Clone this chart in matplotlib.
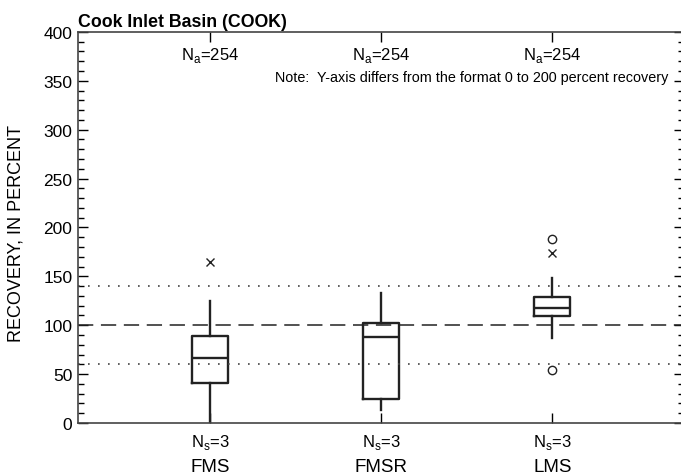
import matplotlib
matplotlib.use("Agg")
import matplotlib.pyplot as plt
from matplotlib.ticker import MultipleLocator

plt.rcParams['font.family'] = ['Liberation Sans', 'DejaVu Sans']
plt.rcParams['mathtext.fontset'] = 'custom'
plt.rcParams['mathtext.rm'] = 'Liberation Sans'

# data
methods = ["FMS", "FMSR", "LMS"]
n_analyses = [254, 254, 254]
n_sites = [3, 3, 3]
whisker_low = [0, 13, 87]
q1 = [41, 25, 109]
median = [67, 88, 118]
q3 = [89, 102, 129]
whisker_high = [125, 133, 148]
outside_x = [[165], [], [174]]       # plotted as x
far_outside = [[], [], [188, 54]]    # plotted as o

fig = plt.figure(figsize=(6.81, 4.77), dpi=100)
ax = fig.add_axes([0.1145, 0.111, 0.89, 0.820])

pos = [1, 2, 3]
stats = []
for i in range(3):
    stats.append(dict(med=median[i], q1=q1[i], q3=q3[i],
                      whislo=whisker_low[i], whishi=whisker_high[i], fliers=[]))

ax.bxp(stats, positions=pos, widths=0.21, showcaps=False, showfliers=False,
       boxprops=dict(color='#222222', linewidth=1.7),
       medianprops=dict(color='#222222', linewidth=1.7),
       whiskerprops=dict(color='#222222', linewidth=1.7), manage_ticks=False)

for i in range(3):
    ax.plot([pos[i]] * len(outside_x[i]), outside_x[i], 'x', color='#222222',
            ms=6, mew=1.0)
    ax.plot([pos[i]] * len(far_outside[i]), far_outside[i], 'o', mfc='none',
            mec='#222222', ms=6, mew=1.0)

ax.axhline(100, color='#222222', lw=1.1, ls=(0, (10, 5)))
ax.axhline(140, color='#444444', lw=1.2, ls=(0, (1, 5)))
ax.axhline(60, color='#444444', lw=1.2, ls=(0, (1, 5)))

ax.set_xlim(0.228, 3.77)
ax.set_ylim(0, 400)
ax.yaxis.set_major_locator(MultipleLocator(50))
ax.yaxis.set_minor_locator(MultipleLocator(10))
ax.set_xticks(pos)
ax.set_xticklabels([])
ax.tick_params(axis='x', direction='in', top=True, bottom=True, length=7, width=1)
ax.tick_params(axis='y', which='major', direction='in', left=True, right=True,
               length=7, width=1, labelsize=12.5, pad=4)
ax.tick_params(axis='y', which='minor', direction='in', left=True, right=True,
               length=4, width=1)
for s in ax.spines.values():
    s.set_color('#444444')
    s.set_linewidth(1.2)

for i in range(3):
    ax.text(pos[i], 377, r"N$_\mathregular{a}$=" + str(n_analyses[i]),
            ha='center', va='center', fontsize=12)
    ax.text(pos[i], -18.5, r"N$_\mathregular{s}$=" + str(n_sites[i]),
            ha='center', va='center', fontsize=12)
    ax.text(pos[i], -44.5, methods[i], ha='center', va='center', fontsize=13.5)

ax.text(3.68, 354, "Note:  Y-axis differs from the format 0 to 200 percent recovery",
        ha='right', va='center', fontsize=10.4)

ax.set_ylabel("RECOVERY, IN PERCENT", fontsize=13)
ax.yaxis.set_label_coords(-0.089, 0.488)
ax.set_title("Cook Inlet Basin (COOK)", loc='left', fontsize=12.8, fontweight='bold',
             pad=4)

fig.savefig("out.png", dpi=100)
